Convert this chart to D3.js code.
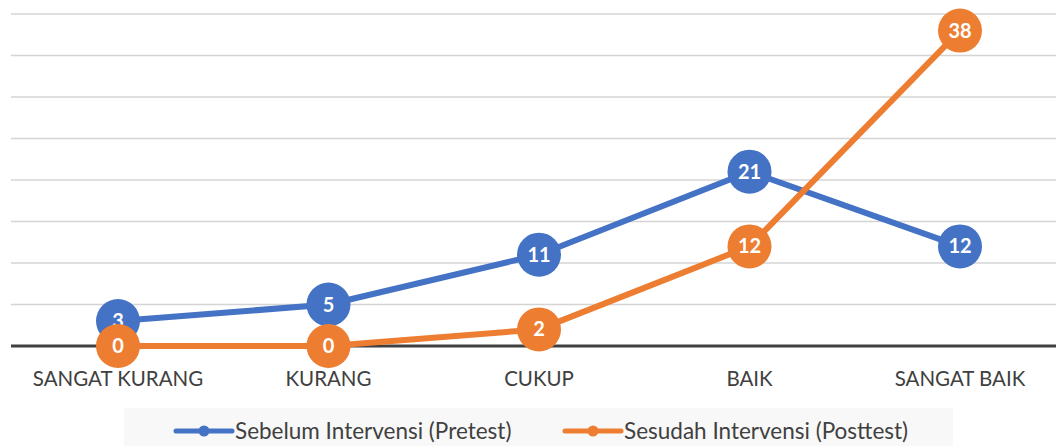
<!DOCTYPE html>
<html>
<head>
<meta charset="utf-8">
<script src="https://cdn.jsdelivr.net/npm/d3@7"></script>
<style>
  body { margin: 0; background: #fff; }
  svg { display: block; font-family: Lato, "Open Sans", sans-serif; }
</style>
</head>
<body>
<svg id="s"></svg>
<script>
var categories = ['SANGAT KURANG', 'KURANG', 'CUKUP', 'BAIK', 'SANGAT BAIK'];
var pretest = [3, 5, 11, 21, 12];
var posttest = [0, 0, 2, 12, 38];
var seriesNames = ['Sebelum Intervensi (Pretest)', 'Sesudah Intervensi (Posttest)'];
var gridTicks = [0, 5, 10, 15, 20, 25, 30, 35, 40];

var W = 1056, H = 446;
var s = d3.select('#s').attr('width', W).attr('height', H);

var x = d3.scalePoint().domain(categories).range([118, 960]);
var y = d3.scaleLinear().domain([0, 40]).range([346, 14]);

// gridlines
s.append('g')
  .selectAll('line')
  .data(gridTicks.filter(function(d){ return d > 0; }))
  .enter()
  .append('line')
  .attr('x1', 11).attr('x2', W)
  .attr('y1', function(d){ return y(d); })
  .attr('y2', function(d){ return y(d); })
  .attr('stroke', '#d4d4d4')
  .attr('stroke-width', 1.5);

// baseline
s.append('line')
  .attr('x1', 11).attr('x2', W)
  .attr('y1', y(0)).attr('y2', y(0))
  .attr('stroke', '#404040')
  .attr('stroke-width', 3);

// category labels
s.append('g')
  .selectAll('text')
  .data(categories)
  .enter()
  .append('text')
  .attr('x', function(d){ return x(d); })
  .attr('y', 386)
  .attr('text-anchor', 'middle')
  .attr('fill', '#404040')
  .attr('font-size', 20.5)
  .text(function(d){ return d; });

var series = [
  { name: seriesNames[0], values: pretest, color: '#4472c4' },
  { name: seriesNames[1], values: posttest, color: '#ed7d31' }
];

var line = d3.line()
  .x(function(d, i){ return x(categories[i]); })
  .y(function(d){ return y(d); });

series.forEach(function(sr){
  var g = s.append('g');
  g.append('path')
    .attr('d', line(sr.values))
    .attr('fill', 'none')
    .attr('stroke', sr.color)
    .attr('stroke-width', 6)
    .attr('stroke-linejoin', 'round');
  g.selectAll('circle')
    .data(sr.values)
    .enter()
    .append('circle')
    .attr('cx', function(d, i){ return x(categories[i]); })
    .attr('cy', function(d){ return y(d); })
    .attr('r', 22)
    .attr('fill', sr.color);
  g.selectAll('text')
    .data(sr.values)
    .enter()
    .append('text')
    .attr('x', function(d, i){ return x(categories[i]); })
    .attr('y', function(d){ return y(d) + 7; })
    .attr('text-anchor', 'middle')
    .attr('fill', '#fff')
    .attr('font-weight', 'bold')
    .attr('font-size', 20)
    .text(function(d){ return d; });
});

// legend
var lg = s.append('g');
lg.append('rect')
  .attr('x', 124).attr('y', 408)
  .attr('width', 829).attr('height', 38)
  .attr('fill', '#f8f8f8');

var legendX = [176, 565];
series.forEach(function(sr, i){
  var lx = legendX[i];
  lg.append('line')
    .attr('x1', lx).attr('x2', lx + 56)
    .attr('y1', 431).attr('y2', 431)
    .attr('stroke', sr.color)
    .attr('stroke-width', 5)
    .attr('stroke-linecap', 'round');
  lg.append('circle')
    .attr('cx', lx + 28).attr('cy', 431)
    .attr('r', 5.5)
    .attr('fill', sr.color);
  lg.append('text')
    .attr('x', lx + 59).attr('y', 439)
    .attr('fill', '#404040')
    .attr('font-size', 22.5)
    .text(sr.name);
});
</script>
</body>
</html>
